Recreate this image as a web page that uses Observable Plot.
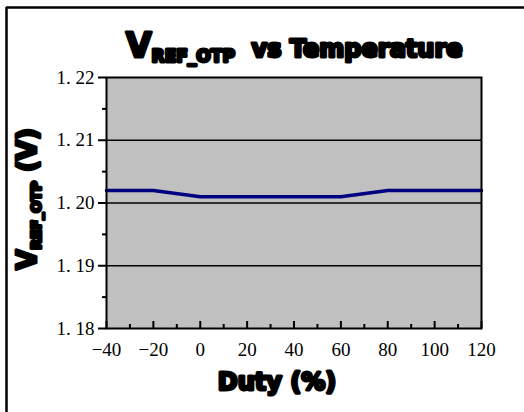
<!DOCTYPE html>
<html>
<head>
<meta charset="utf-8">
<script src="https://cdn.jsdelivr.net/npm/d3@7"></script>
<script src="https://cdn.jsdelivr.net/npm/@observablehq/plot@0.6"></script>
<style>
  html, body { margin: 0; padding: 0; background: #fff; }
  #chart { position: relative; width: 524px; height: 412px; }
</style>
</head>
<body>
<div id="chart"></div>
<script>
const temps = [-40, -20, 0, 20, 40, 60, 80, 100, 120];
const vref  = [1.202, 1.202, 1.201, 1.201, 1.201, 1.201, 1.202, 1.202, 1.202];
const yMajor = [1.18, 1.19, 1.20, 1.21, 1.22];
const yMinor = [1.185, 1.195, 1.205, 1.215];
const yGrid = [1.19, 1.20, 1.21];
const xMajor = [-40, -20, 0, 20, 40, 60, 80, 100, 120];
const xMinor = [-30, -10, 10, 30, 50, 70, 90, 110];

const data = temps.map((t, i) => ({t, v: vref[i]}));
const serif = "'Liberation Serif', 'DejaVu Serif', serif";

const W = 524, H = 412, mL = 106, mR = 43, mT = 77, mB = 84;
const frameH = H - mT - mB;

const chart = Plot.plot({
  width: W, height: H,
  marginLeft: mL, marginRight: mR, marginTop: mT, marginBottom: mB,
  style: {fontFamily: serif, fontSize: "19px", color: "#000", background: "transparent"},
  x: {domain: [-40, 120]},
  y: {domain: [1.18, 1.22]},
  marks: [
    Plot.frame({fill: "#c0c0c0"}),
    Plot.ruleY(yGrid, {stroke: "#000", strokeWidth: 1.5}),
    Plot.line(data, {x: "t", y: "v", stroke: "#000080", strokeWidth: 3.5}),
    Plot.frame({stroke: "#000", strokeWidth: 2}),
    Plot.axisY(yMajor, {tickSize: 8, tickPadding: 4, strokeWidth: 2, tickFormat: d => d.toFixed(2).replace(".", ". "), label: null}),
    Plot.axisY(yMinor, {tickSize: 4, strokeWidth: 2, tickFormat: () => "", label: null}),
    Plot.tickX(xMajor, {x: d => d, insetTop: frameH - 7, stroke: "#000", strokeWidth: 2}),
    Plot.tickX(xMinor, {x: d => d, insetTop: frameH - 4, stroke: "#000", strokeWidth: 2}),
    Plot.axisX(xMajor, {tickSize: 0, tickPadding: 14, tickFormat: d => d < 0 ? "\u2212" + Math.abs(d) : String(d), label: null})
  ]
});

document.getElementById("chart").appendChild(chart);

const svg = d3.select(chart);
// outer border (top and left visible)
svg.append("line").attr("x1", 6).attr("y1", 7.5).attr("x2", W).attr("y2", 7.5).attr("stroke", "#000").attr("stroke-width", 2.5);
svg.append("line").attr("x1", 6.5).attr("y1", 7).attr("x2", 6.5).attr("y2", H).attr("stroke", "#000").attr("stroke-width", 2.5);

const heavy = sel => sel.attr("font-family", "'DejaVu Sans', sans-serif").attr("font-weight", 900)
  .attr("fill", "#000").attr("stroke", "#000").attr("stroke-width", 3).attr("stroke-linejoin", "round");

// title
const title = svg.append("text").attr("x", 126).attr("y", 57).attr("text-anchor", "start").call(heavy).attr("font-size", 33);
title.append("tspan").text("V");
title.append("tspan").attr("font-size", 17).attr("dy", 5).text("REF_OTP");
title.append("tspan").attr("font-size", 24).attr("dy", -5).text("  vs Temperature");

// x label
svg.append("text").attr("x", 277).attr("y", 390).attr("text-anchor", "middle").call(heavy)
  .attr("font-size", 24).text("Duty (%)");

// y label
const yl = svg.append("text").attr("transform", "translate(36,199) rotate(-90)").attr("text-anchor", "middle").call(heavy)
  .attr("font-size", 26);
yl.append("tspan").text("V");
yl.append("tspan").attr("font-size", 14).attr("dy", 5).text("REF_OTP");
yl.append("tspan").attr("dy", -5).text(" (V)");
</script>
</body>
</html>
